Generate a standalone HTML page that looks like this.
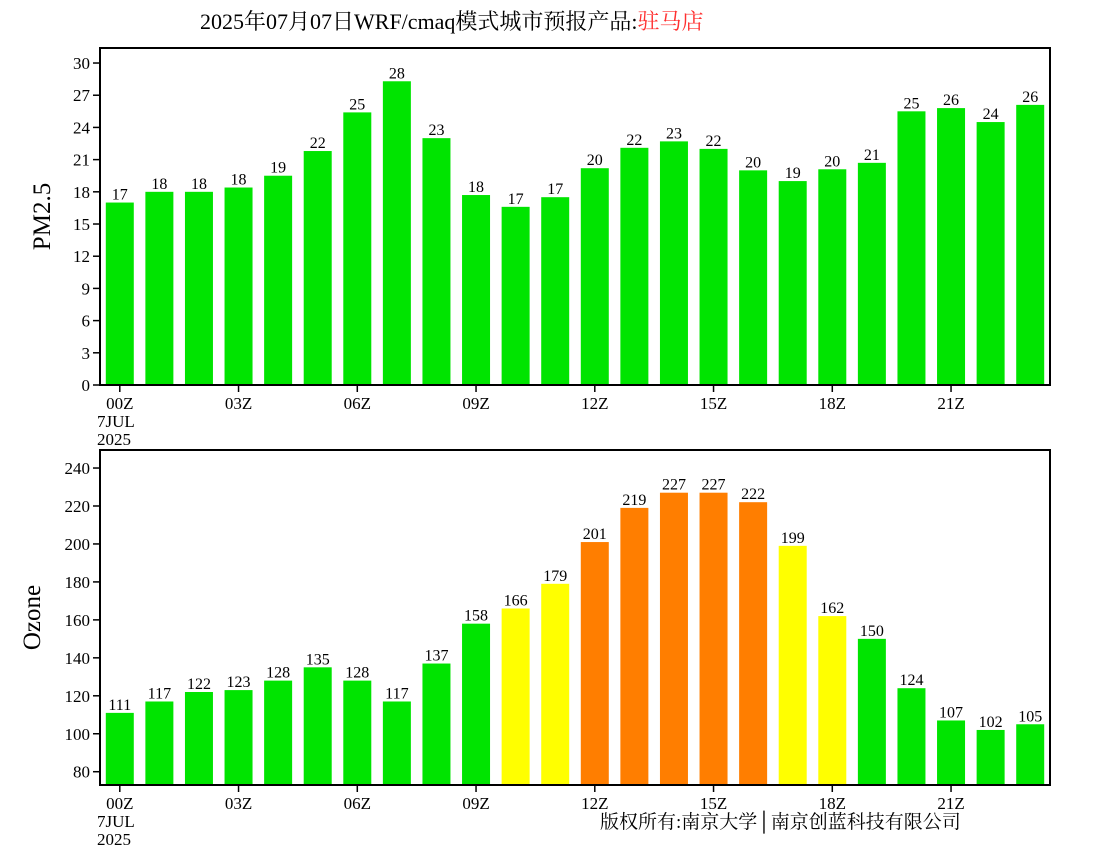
<!DOCTYPE html>
<html><head><meta charset="utf-8"><style>
body{margin:0;background:#fff;}
svg text{font-family:"Liberation Serif","Noto Serif CJK SC",serif;}
</style></head><body>
<svg id="svg" width="1100" height="850" xmlns="http://www.w3.org/2000/svg">
<text x="200" y="29" font-size="22">2025年07月07日WRF/cmaq模式城市预报产品:<tspan fill="#ff3030">驻马店</tspan></text>
<text x="600" y="828" font-size="19">版权所有:南京大学│南京创蓝科技有限公司</text>
<g id="g1"></g><g id="g2"></g>
</svg>
<script>
const hours = [0,1,2,3,4,5,6,7,8,9,10,11,12,13,14,15,16,17,18,19,20,21,22,23];
const pmValues = [17,18,18,18.4,19.5,21.8,25.4,28.3,23,17.7,16.6,17.5,20.2,22.1,22.7,22,20,19,20.1,20.7,25.5,25.8,24.5,26.1];
const pmLabels = [17,18,18,18,19,22,25,28,23,18,17,17,20,22,23,22,20,19,20,21,25,26,24,26];
const o3Values = [111,117,122,123,128,135,128,117,137,158,166,179,201,219,227,227,222,199,162,150,124,107,102,105];
const pmTicks = [0,3,6,9,12,15,18,21,24,27,30];
const o3Ticks = [80,100,120,140,160,180,200,220,240];
const xTickLabels = ["00Z","03Z","06Z","09Z","12Z","15Z","18Z","21Z"];
const NS="http://www.w3.org/2000/svg";
function mk(p,tag,attrs,txt){const e=document.createElementNS(NS,tag);for(const k in attrs)e.setAttribute(k,attrs[k]);if(txt!==undefined)e.textContent=txt;p.appendChild(e);return e;}
function panel(g,top,bot,ymin,ymax,vals,labs,ticks,title,colorFn,tx){
  const L=100,R=1050;
  const x=i=>L+(i+0.5)*(R-L)/24;
  const y=v=>bot-(v-ymin)/(ymax-ymin)*(bot-top);
  vals.forEach((v,i)=>{
    const r=mk(g,'rect',{x:x(i)-14,y:y(v),width:28,height:bot-y(v),fill:colorFn(v)});
    
    
    const t=mk(g,'text',{x:x(i),y:y(v)-3,'font-size':16,'text-anchor':'middle'},labs[i]);
    
    
  });
  const f=mk(g,'rect',{x:L,y:top,width:R-L,height:bot-top,fill:'none',stroke:'#000','stroke-width':2});
  
  
  ticks.forEach(t=>{
    mk(g,'line',{x1:L-7,x2:L,y1:y(t),y2:y(t),stroke:'#000','stroke-width':1.5});
    const e=mk(g,'text',{x:L-10,y:y(t)+6,'font-size':17,'text-anchor':'end'},t);
    
    
  });
  xTickLabels.forEach((s,k)=>{
    const xi=x(k*3);
    mk(g,'line',{x1:xi,x2:xi,y1:bot,y2:bot+7,stroke:'#000','stroke-width':1.5});
    const e=mk(g,'text',{x:xi,y:bot+24,'font-size':17,'text-anchor':'middle'},s);
    
    
  });
  const d1=mk(g,'text',{x:97,y:bot+42,'font-size':17},'7JUL');
  
  
  const d2=mk(g,'text',{x:97,y:bot+60,'font-size':17},'2025');
  
  
  const yt=mk(g,'text',{x:0,y:0,'font-size':25,'text-anchor':'middle',transform:`translate(${tx},${(top+bot)/2}) rotate(-90)`},title);
  
  
}
panel(document.getElementById('g1'),48,385,0,31.4,pmValues,pmLabels,pmTicks,'PM2.5',()=>'#00e400',50);
panel(document.getElementById('g2'),450,785,73,249.5,o3Values,o3Values,o3Ticks,'Ozone',v=>v>200?'#ff7e00':(v>160?'#ffff00':'#00e400'),40);
</script>
</body></html>
